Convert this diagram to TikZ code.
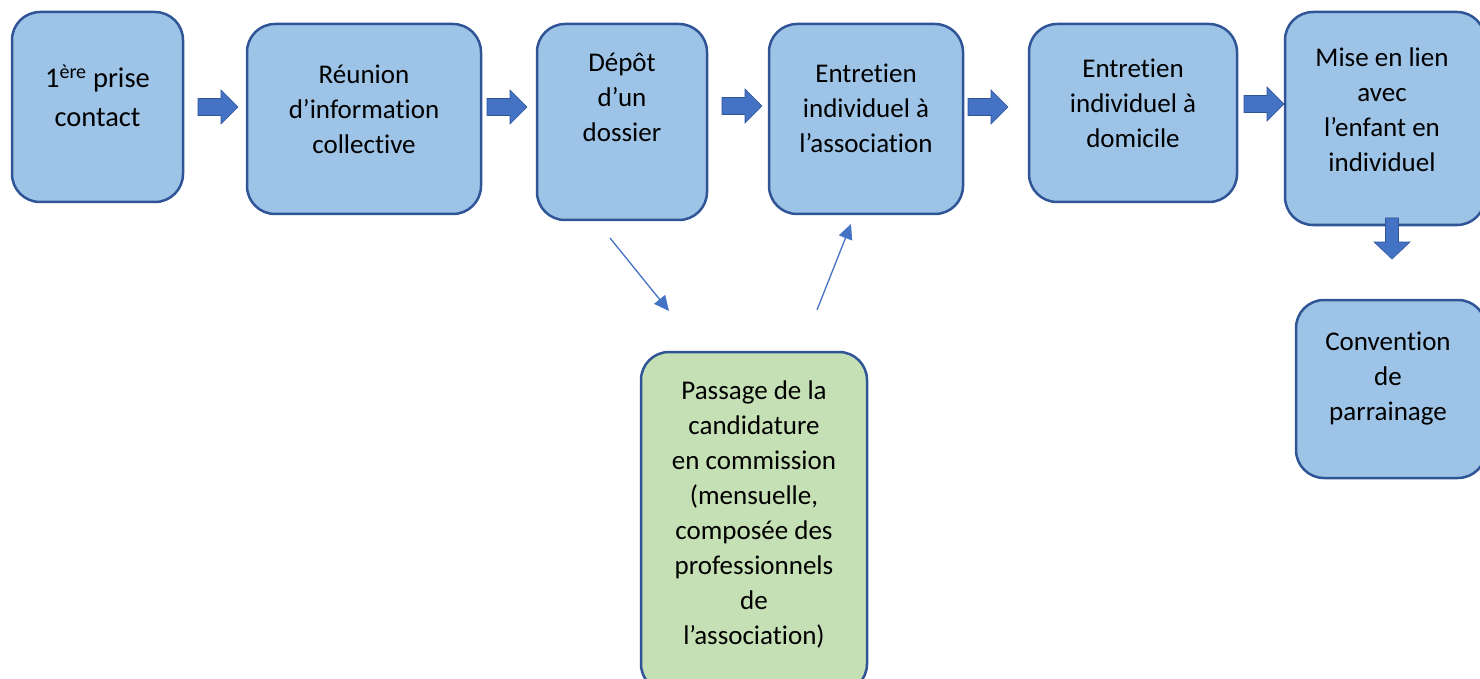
\documentclass[tikz,border=0pt]{standalone}
\usepackage{fontspec}
\setmainfont{Carlito}[Ligatures=NoCommon]
\usetikzlibrary{arrows.meta}
\definecolor{boxblue}{HTML}{9DC3E6}
\definecolor{edgeblue}{HTML}{2F5597}
\definecolor{boxgreen}{HTML}{C5E0B4}
\definecolor{arrowblue}{HTML}{4472C4}
\tikzset{
 stepbox/.style={draw=edgeblue, line width=2.5pt, rounded corners=28pt, fill=boxblue, inner sep=0pt},
 greenbox/.style={stepbox, fill=boxgreen},
 txt/.style={align=center, font=\fontsize{27}{35}\selectfont, inner sep=0pt},
 bigtxt/.style={align=center, font=\fontsize{28.5}{39}\selectfont, inner sep=0pt},
 pics/rightarrow/.style={code={
   \filldraw[fill=arrowblue, draw=edgeblue, line width=0.6pt]
     (-20,-8.5) -- (3,-8.5) -- (3,-17) -- (20,0) -- (3,17) -- (3,8.5) -- (-20,8.5) -- cycle;}},
 pics/downarrow/.style={code={
   \filldraw[fill=arrowblue, draw=edgeblue, line width=0.6pt]
     (-6.5,-20.5) -- (6.5,-20.5) -- (6.5,3.5) -- (18,3.5) -- (0,20.5) -- (-18,3.5) -- (-6.5,3.5) -- cycle;}},
 thinarrow/.style={draw=arrowblue, line width=1.3pt, -{Triangle[length=15pt,width=14pt]}}
}
\begin{document}
\begin{tikzpicture}[x=1pt,y=-1pt]
\useasboundingbox (0,0) rectangle (1480,679);
\begin{scope}
\clip (0,0) rectangle (1480,679);
% boxes
\node[stepbox, minimum width=171pt, minimum height=190pt] (b1) at (97.5,107) {};
\node[stepbox, minimum width=234pt, minimum height=190pt] (b2) at (364,119) {};
\node[stepbox, minimum width=170pt, minimum height=196pt] (b3) at (622,122) {};
\node[stepbox, minimum width=194pt, minimum height=190pt] (b4) at (866,119) {};
\node[stepbox, minimum width=208pt, minimum height=178pt] (b5) at (1133,113) {};
\node[stepbox, minimum width=200pt, minimum height=213pt] (b6) at (1385,118.5) {};
\node[stepbox, minimum width=190pt, minimum height=178pt] (b7) at (1391,389) {};
\node[greenbox, minimum width=226pt, minimum height=340pt] (g) at (754,522) {};
% texts
\node[bigtxt] (t1) at (97.5,96) {1\textsuperscript{ère} prise\\contact};
\node[txt] (t2) at (364,109) {Réunion\\d’information\\collective};
\node[txt] (t3) at (622,97) {Dépôt\\d’un\\dossier};
\node[txt] (t4) at (866,108) {Entretien\\individuel à\\l’association};
\node[txt] (t5) at (1133,103) {Entretien\\individuel à\\domicile};
\node[txt] (t6) at (1382,110) {Mise en lien\\avec\\l’enfant en\\individuel};
\node[txt] (t7) at (1388,379) {Convention\\de\\parrainage};
\node[txt] (tg) at (754,514) {Passage de la\\candidature\\en commission\\(mensuelle,\\composée des\\professionnels\\de\\l’association)};
\end{scope}
% block arrows
\pic (a1) at (218,107) {rightarrow};
\pic (a2) at (507,107) {rightarrow};
\pic (a3) at (742,106) {rightarrow};
\pic (a4) at (988,107) {rightarrow};
\pic (a5) at (1264,104) {rightarrow};
\pic (a6) at (1392,238.5) {downarrow};
% thin arrows
\coordinate (s1) at (610,238);
\coordinate (e1) at (669,311);
\coordinate (s2) at (817,310);
\coordinate (e2) at (851,224);
\draw[thinarrow] (s1) -- (e1);
\draw[thinarrow] (s2) -- (e2);
\end{tikzpicture}
\end{document}
